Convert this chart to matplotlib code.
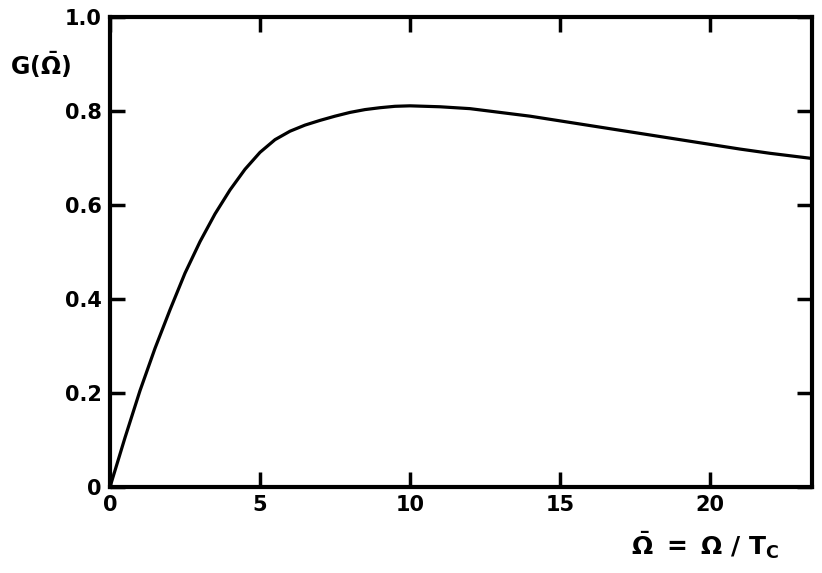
import matplotlib
matplotlib.use("Agg")
import matplotlib.pyplot as plt

plt.rcParams['mathtext.fontset'] = 'custom'
plt.rcParams['mathtext.rm'] = 'DejaVu Sans:bold'
plt.rcParams['mathtext.it'] = 'DejaVu Sans:bold'
plt.rcParams['mathtext.bf'] = 'DejaVu Sans:bold'

omega_bar = [0, 0.5, 1, 1.5, 2, 2.5, 3, 3.5, 4, 4.5, 5, 5.5, 6, 6.5, 7, 7.5,
             8, 8.5, 9, 9.5, 10, 11, 12, 13, 14, 15, 16, 17, 18, 19, 20, 21,
             22, 23.4]
G = [0, 0.105, 0.205, 0.295, 0.377, 0.455, 0.522, 0.581, 0.632, 0.676, 0.712,
     0.739, 0.757, 0.770, 0.780, 0.789, 0.797, 0.803, 0.807, 0.810, 0.811,
     0.809, 0.805, 0.797, 0.789, 0.779, 0.769, 0.759, 0.749, 0.739, 0.729,
     0.719, 0.710, 0.699]

x_ticks = [0, 5, 10, 15, 20]
x_tick_labels = ['0', '5', '10', '15', '20']
y_ticks = [0, 0.2, 0.4, 0.6, 0.8, 1.0]
y_tick_labels = ['0', '0.2', '0.4', '0.6', '0.8', '1.0']

fig = plt.figure(figsize=(8.22, 5.73), dpi=100)
ax = fig.add_axes([110/822, 1-487/573, (812-110)/822, (487-17)/573])
ax.plot(omega_bar, G, color='black', lw=2.3, solid_capstyle='round',
        solid_joinstyle='round')
ax.set_xlim(0, 23.4)
ax.set_ylim(0, 1.0)
ax.set_xticks(x_ticks)
ax.set_xticklabels(x_tick_labels)
ax.set_yticks(y_ticks)
ax.set_yticklabels(y_tick_labels)
for s in ax.spines.values():
    s.set_linewidth(3)
ax.tick_params(direction='in', length=11, width=2.5, top=True, right=True,
               labelsize=15, pad=6)
for lab in ax.get_xticklabels() + ax.get_yticklabels():
    lab.set_fontweight('bold')

fig.text(10/822, 1-65/573, r'G($\bar{\Omega}$)', fontsize=17, fontweight='bold',
         va='center', ha='left')
fig.text(705/822, 1-545/573, r'$\bar{\Omega}\ =\ \Omega\ /\ T_C$', fontsize=18,
         va='center', ha='center')

fig.savefig('out.png', dpi=100, facecolor='white')
